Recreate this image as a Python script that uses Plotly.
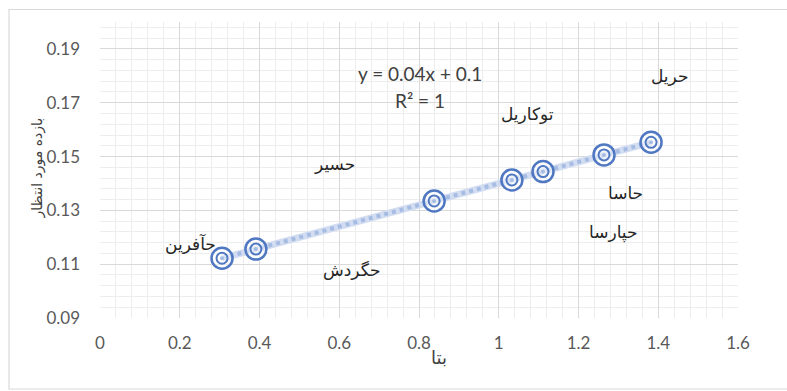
import plotly.graph_objects as go

# ---- data ----
beta = [0.306, 0.391, 0.838, 1.033, 1.111, 1.264, 1.382]
expected_return = [0.1122, 0.1156, 0.1335, 0.1413, 0.1444, 0.1506, 0.1553]
companies = ["حآفرین", "حگردش", "حسیر", "توکاریل", "حاسا", "حپارسا", "حریل"]
# label anchor positions (data coords) as placed in the reference
label_x = [0.226, 0.632, 0.589, 1.071, 1.317, 1.287, 1.429]
label_y = [0.1178, 0.1078, 0.1474, 0.1659, 0.1363, 0.1219, 0.1800]
equation_lines = ["y = 0.04x + 0.1", "R² = 1"]
x_title = "بتا"
y_title = "بازده مورد انتظار"

W, H = 787, 391
ML, MR, MT, MB = 100, 49, 22, 73

fig = go.Figure()

blue = "#5078c2"
# textured connecting line
fig.add_trace(go.Scatter(x=beta, y=expected_return, mode="lines",
                         line=dict(color="#d3ddf1", width=7), hoverinfo="skip", showlegend=False))
fig.add_trace(go.Scatter(x=beta, y=expected_return, mode="lines",
                         line=dict(color="#a6bce3", width=4, dash="dot"), hoverinfo="skip", showlegend=False))
# double-ring markers
fig.add_trace(go.Scatter(x=beta, y=expected_return, mode="markers",
                         marker=dict(symbol="circle", size=21, color="rgba(255,255,255,0.5)",
                                     line=dict(color=blue, width=2.5)), showlegend=False))
fig.add_trace(go.Scatter(x=beta, y=expected_return, mode="markers",
                         marker=dict(symbol="circle-open", size=11, color=blue,
                                     line=dict(color=blue, width=2)), showlegend=False))
fig.add_trace(go.Scatter(x=beta, y=expected_return, mode="markers",
                         marker=dict(symbol="circle", size=4, color="#a6bce3"), showlegend=False))

annotations = []
for name, lx, ly in zip(companies, label_x, label_y):
    annotations.append(dict(x=lx, y=ly, xref="x", yref="y", text=name, showarrow=False,
                            font=dict(family="DejaVu Sans", size=17, color="#262626")))

annotations.append(dict(x=0.8025, y=0.1807, xref="x", yref="y", text=equation_lines[0], showarrow=False,
                        font=dict(family="Lato, Liberation Sans", size=19, color="#404040")))
annotations.append(dict(x=0.8025, y=0.1707, xref="x", yref="y", text=equation_lines[1], showarrow=False,
                        font=dict(family="Lato, Liberation Sans", size=19, color="#404040")))

pw, ph = W - ML - MR, H - MT - MB
annotations.append(dict(x=(439 - ML) / pw, y=(H - MB - 370) / ph, xref="paper", yref="paper",
                        text=x_title, showarrow=False,
                        font=dict(family="DejaVu Sans", size=18, color="#404040")))
annotations.append(dict(x=(26 - ML) / pw, y=(H - MB - 168) / ph, xref="paper", yref="paper",
                        text=y_title, showarrow=False, textangle=-90,
                        font=dict(family="DejaVu Sans", size=14, color="#404040")))

fig.update_layout(
    width=W, height=H,
    margin=dict(l=ML, r=MR, t=MT, b=MB, pad=0),
    paper_bgcolor="white", plot_bgcolor="white",
    annotations=annotations,
    shapes=[dict(type="rect", xref="paper", yref="paper",
                 x0=(9 - ML) / pw, x1=(800 - ML) / pw,
                 y0=(H - MB - 389) / ph, y1=(H - MB - 9.5) / ph,
                 line=dict(color="#d9d9d9", width=1.2), layer="below")],
    font=dict(family="Lato, Liberation Sans", color="#595959"),
)

fig.update_xaxes(range=[0, 1.6], tick0=0, dtick=0.2, tickformat="~g",
                 showgrid=True, gridcolor="#d9d9d9", gridwidth=1,
                 minor=dict(dtick=0.04, tick0=0, showgrid=True, gridcolor="#ededed", gridwidth=1),
                 zeroline=False, showline=False, ticks="", ticklabelstandoff=13,
                 tickfont=dict(size=17, color="#595959"))
fig.update_yaxes(range=[0.09, 0.2], tick0=0.09, dtick=0.02, tickformat=".2f",
                 showgrid=True, gridcolor="#d9d9d9", gridwidth=1,
                 minor=dict(dtick=0.004, tick0=0.09, showgrid=True, gridcolor="#ededed", gridwidth=1),
                 zeroline=False, showline=False, ticks="", ticklabelstandoff=19,
                 tickfont=dict(size=17, color="#595959"))

fig.write_html("out.html")
